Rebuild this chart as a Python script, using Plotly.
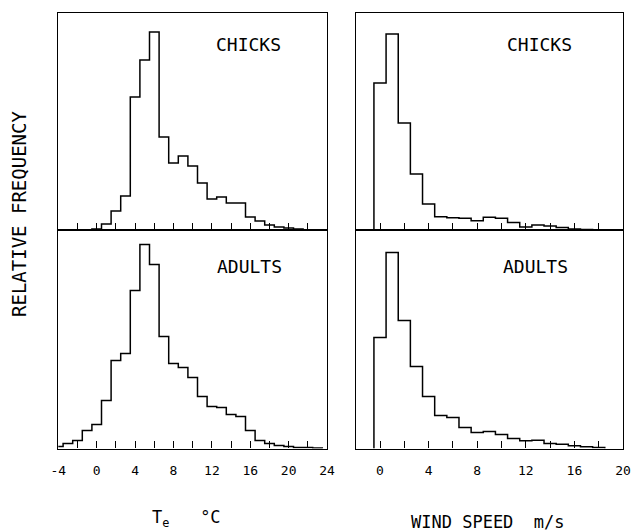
import plotly.graph_objects as go

# ---------------- data (relative frequency, arbitrary units) ----------------
te_bins = list(range(-4, 24))  # bin centres, deg C, bin width 1
te_chicks = [0, 0, 0, 0, 1, 6, 19, 34, 133, 170, 198, 93, 67, 74, 64, 47, 31, 33,
             27, 27, 13, 9, 5, 3, 2, 1, 0, 0]
te_adults = [2, 5, 8, 18, 24, 48, 88, 95, 158, 204, 184, 112, 85, 81, 71, 52, 42, 41,
             34, 32, 18, 8, 5, 3, 2, 1, 1, 0.5]

ws_bins = list(range(0, 19))  # bin centres, m/s, bin width 1
ws_chicks = [147, 196, 107, 56, 26, 13.3, 12.3, 11.7, 9.3, 12.7, 11.7, 7.5, 3, 5, 4,
             2.5, 1, 0.5, 0]
ws_adults = [111, 196, 128, 82, 52, 33, 31, 21, 16, 17, 14, 10, 7.7, 8.3, 5, 4.3, 2.7,
             1.7, 1]

te_ticks = list(range(-4, 25, 4))
te_labels = [str(v) for v in te_ticks]
ws_ticks = list(range(0, 21, 4))
ws_labels = [str(v) for v in ws_ticks]

panel_labels = ["CHICKS", "ADULTS"]

FONT = "DejaVu Sans Mono"
W, H = 637, 532


def step_xy(centres, vals, width=1.0):
    edges = [c - width / 2 for c in centres]
    last = centres[-1] + width / 2
    x = [edges[0]] + edges + [last]
    y = [0] + list(vals) + [0]
    return x, y


fig = go.Figure()

series = [
    (te_bins, te_chicks, "x", "y"),
    (te_bins, te_adults, "x2", "y2"),
    (ws_bins, ws_chicks, "x3", "y3"),
    (ws_bins, ws_adults, "x4", "y4"),
]
for cen, vals, xa, ya in series:
    x, y = step_xy(cen, vals)
    fig.add_trace(go.Scatter(x=x, y=y, mode="lines", line=dict(color="black", width=1.5, shape="hv"),
                             xaxis=xa, yaxis=ya, showlegend=False, hoverinfo="skip", cliponaxis=True))

def px_x(p):
    return p / W

def px_y(p):
    return (H - p) / H

left_dom = [px_x(58.3), px_x(327.1)]
right_dom = [px_x(355.7), px_x(623.0)]
top_dom = [px_y(230), px_y(13.3)]
bot_dom = [px_y(448.5), px_y(230)]

axis_common = dict(showline=True, mirror=True, linecolor="black", linewidth=1.2,
                   showgrid=False, zeroline=False, fixedrange=True, automargin=False)

def xax(dom, rng, ticks, labels, anchor, show_labels):
    return dict(axis_common, domain=dom, range=rng, anchor=anchor,
                tickmode="array", tickvals=ticks, ticktext=labels,
                ticks="inside", ticklen=7, tickwidth=1.2, tickcolor="black",
                minor=dict(tickmode="linear", tick0=0, dtick=2, ticks="inside", ticklen=7,
                           tickwidth=1.2, tickcolor="black", showgrid=False),
                showticklabels=show_labels, ticklabelstandoff=10,
                tickfont=dict(family=FONT, size=13, color="black"))

def yax(dom, rng, anchor):
    return dict(axis_common, domain=dom, range=rng, anchor=anchor,
                showticklabels=False, ticks="")

fig.update_layout(
    template="none",
    width=W, height=H,
    margin=dict(l=0, r=0, t=0, b=0, pad=0),
    paper_bgcolor="white", plot_bgcolor="white",
    xaxis=xax(left_dom, [-4, 24], te_ticks, te_labels, "y", False),
    yaxis=yax(top_dom, [0, 216.7], "x"),
    xaxis2=xax(left_dom, [-4, 24], te_ticks, te_labels, "y2", True),
    yaxis2=yax(bot_dom, [0, 218.5], "x2"),
    xaxis3=xax(right_dom, [-2, 20], ws_ticks, ws_labels, "y3", False),
    yaxis3=yax(top_dom, [0, 216.7], "x3"),
    xaxis4=xax(right_dom, [-2, 20], ws_ticks, ws_labels, "y4", True),
    yaxis4=yax(bot_dom, [0, 218.5], "x4"),
)

ann_font = dict(family=FONT, size=18, color="black")
annotations = [
    dict(text=panel_labels[0], x=px_x(248), y=px_y(44)),
    dict(text=panel_labels[0], x=px_x(539), y=px_y(44)),
    dict(text=panel_labels[1], x=px_x(249), y=px_y(266)),
    dict(text=panel_labels[1], x=px_x(535), y=px_y(266)),
]
for a in annotations:
    fig.add_annotation(xref="paper", yref="paper", showarrow=False, font=ann_font,
                       xanchor="center", yanchor="middle", **a)

fig.add_annotation(text="RELATIVE FREQUENCY", xref="paper", yref="paper", x=px_x(19), y=px_y(214),
                   textangle=-90, showarrow=False, font=dict(family=FONT, size=19, color="black"),
                   xanchor="center", yanchor="middle")
fig.add_annotation(text="T<sub>e</sub>\u00a0\u00a0\u00a0°C", xref="paper", yref="paper", x=px_x(186), y=px_y(518),
                   showarrow=False, font=dict(family=FONT, size=17, color="black"),
                   xanchor="center", yanchor="middle")
fig.add_annotation(text="WIND SPEED\u00a0\u00a0m/s", xref="paper", yref="paper", x=px_x(488), y=px_y(522),
                   showarrow=False, font=dict(family=FONT, size=17, color="black"),
                   xanchor="center", yanchor="middle")

fig.write_html("out.html", config={"displayModeBar": False},
               post_script="document.body.style.margin='0';document.body.style.overflow='hidden';")
